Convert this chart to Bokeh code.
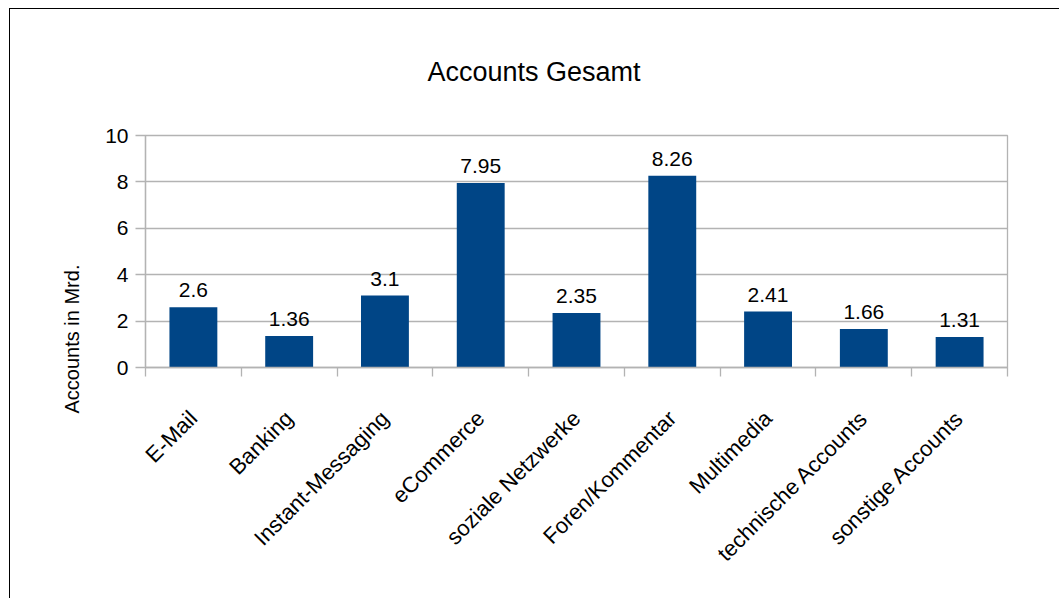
import math
from bokeh.plotting import figure
from bokeh.models import (ColumnDataSource, LabelSet, FixedTicker, Range1d, Title)
from bokeh.core.properties import value
from bokeh.embed import file_html
from bokeh.resources import INLINE

categories = ["E-Mail", "Banking", "Instant-Messaging", "eCommerce", "soziale Netzwerke",
              "Foren/Kommentar", "Multimedia", "technische Accounts", "sonstige Accounts"]
values = [2.6, 1.36, 3.1, 7.95, 2.35, 8.26, 2.41, 1.66, 1.31]
value_labels = ["2.6", "1.36", "3.1", "7.95", "2.35", "8.26", "2.41", "1.66", "1.31"]
y_ticks = [0, 2, 4, 6, 8, 10]
title_text = "Accounts Gesamt"
y_title = "Accounts in Mrd."

FONT = "Liberation Sans"
GRID = "#b3b3b3"
BAR = "#004586"

xs = [i + 0.5 for i in range(len(categories))]
src = ColumnDataSource(dict(x=xs, top=values, lab=value_labels))

# figure canvas starts at (10, 9) because of the chart border drawn via CSS
p = figure(width=1050, height=590, output_backend="svg", toolbar_location=None,
           x_range=Range1d(0, len(categories)), y_range=Range1d(0, 10),
           min_border_left=135, min_border_right=53, min_border_top=126,
           min_border_bottom=232,
           margin=(8, 0, 0, 9),
           styles={"border-left": "1px solid black", "border-top": "1px solid black"})
p.outline_line_color = GRID
p.outline_line_width = 1.3
p.background_fill_color = "white"
p.border_fill_color = "white"

p.vbar(x="x", top="top", width=0.5, source=src, fill_color=BAR, line_color=None)

p.add_layout(LabelSet(x="x", y="top", text="lab", source=src, y_offset=10,
                      text_align="center", text_baseline="alphabetic",
                      text_font=value(FONT), text_font_size="21px", text_color="#000000"))

# x axis
xa = p.xaxis[0]
xa.ticker = FixedTicker(ticks=xs, minor_ticks=list(range(len(categories) + 1)))
xa.major_label_overrides = {x: c for x, c in zip(xs, categories)}
xa.major_tick_line_color = None
xa.minor_tick_line_color = GRID
xa.minor_tick_line_width = 1.3
xa.minor_tick_out = 9
xa.minor_tick_in = 0
xa.axis_line_color = GRID
xa.axis_line_width = 1.3
xa.major_label_orientation = math.pi / 4
xa.major_label_standoff = 38
xa.major_label_text_font = FONT
xa.major_label_text_font_size = "22px"
xa.major_label_text_color = "#000000"
p.xgrid.visible = False

# y axis
ya = p.yaxis[0]
ya.ticker = FixedTicker(ticks=y_ticks, minor_ticks=[])
ya.major_tick_line_color = GRID
ya.major_tick_line_width = 1.3
ya.major_tick_out = 10
ya.major_tick_in = 0
ya.minor_tick_line_color = None
ya.axis_line_color = GRID
ya.axis_line_width = 1.3
ya.major_label_standoff = 7
ya.major_label_text_font = FONT
ya.major_label_text_font_size = "21px"
ya.major_label_text_color = "#000000"
p.ygrid.grid_line_color = GRID
p.ygrid.grid_line_width = 1.3
p.ygrid.ticker = FixedTicker(ticks=y_ticks)

# titles
p.add_layout(Title(text=title_text, align="left", offset=282, standoff=93,
                   vertical_align="top",
                   text_font=FONT, text_font_size="27px", text_font_style="normal",
                   text_color="#000000"), "above")
p.add_layout(Title(text=y_title, align="left", offset=-46, standoff=39,
                   text_font=FONT, text_font_size="20px", text_font_style="normal",
                   text_color="#000000"), "left")

open("out.html", "w").write(file_html(p, INLINE))
